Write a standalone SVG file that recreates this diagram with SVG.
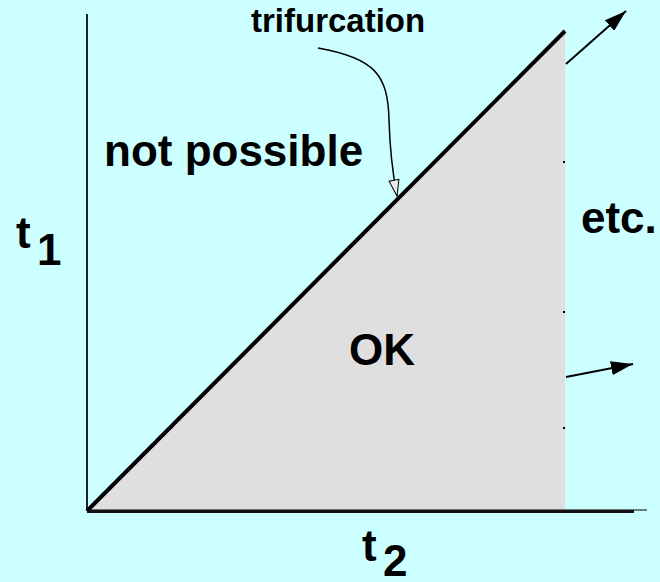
<svg xmlns="http://www.w3.org/2000/svg" width="660" height="582" viewBox="0 0 660 582">
<style>
.lbl{font-family:"Liberation Sans",Arial,sans-serif;font-weight:bold;fill:#000}
.big{font-size:44px}
.sm{font-size:33px}
</style>
<defs>
<marker id="fill" viewBox="0 0 22 14" refX="22" refY="7" markerWidth="22" markerHeight="14" markerUnits="userSpaceOnUse" orient="auto">
<path d="M0,0 L22,7 L0,14 z" fill="#000"/>
</marker>
<marker id="hollow" viewBox="0 0 18 12" refX="17" refY="6" markerWidth="18" markerHeight="12" markerUnits="userSpaceOnUse" orient="auto">
<path d="M1,1 L17,6 L1,11 z" fill="#e8e8e8" stroke="#000" stroke-width="1"/>
</marker>
</defs>
<rect width="660" height="582" fill="#ccffff"/>
<g id="region-ok">
<polygon points="87,511 565,31 565,511" fill="#dfdfdf"/>
</g>
<g id="axes">
<line x1="87" y1="14" x2="87" y2="511" stroke="#222" stroke-width="2"/>
<line x1="87" y1="510" x2="647" y2="510" stroke="#000" stroke-width="1"/>
<line x1="87" y1="511.5" x2="634" y2="511.5" stroke="#111" stroke-width="3"/>
<line x1="87" y1="511" x2="565" y2="31" stroke="#000" stroke-width="4"/>
<rect x="563" y="161" width="2" height="2" fill="#000"/>
<rect x="563" y="311" width="2" height="2" fill="#000"/>
<rect x="563" y="427" width="2" height="2" fill="#000"/>
</g>
<g id="connectors" fill="none" stroke="#000">
<line x1="566" y1="64" x2="626" y2="11" stroke-width="2" marker-end="url(#fill)"/>
<line x1="566" y1="377" x2="633" y2="364" stroke-width="2" marker-end="url(#fill)"/>
<path d="M318,48 C375,58 388,75 389,120 C390,155 393,175 397,196" stroke-width="1.5" marker-end="url(#hollow)"/>
</g>
<g id="labels">
<text class="lbl sm" x="251" y="32">trifurcation</text>
<text class="lbl big" x="104" y="166">not possible</text>
<text class="lbl big" x="581" y="233">etc.</text>
<text class="lbl big" x="349" y="365">OK</text>
<text class="lbl big" x="16" y="248">t</text>
<text class="lbl big" x="37" y="265">1</text>
<text class="lbl big" x="362" y="561">t</text>
<text class="lbl big" x="383" y="576">2</text>
</g>
</svg>
